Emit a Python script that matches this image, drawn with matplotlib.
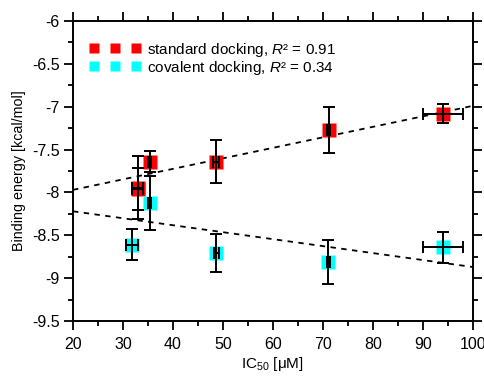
import matplotlib
matplotlib.use("Agg")
import matplotlib.pyplot as plt
from matplotlib.lines import Line2D
from matplotlib.ticker import MultipleLocator
import numpy as np

plt.rcParams['font.family'] = ['Liberation Sans', 'DejaVu Sans']
plt.rcParams['mathtext.fontset'] = 'custom'
plt.rcParams['mathtext.rm'] = 'Liberation Sans'
plt.rcParams['mathtext.it'] = 'Liberation Sans:italic'
plt.rcParams['axes.unicode_minus'] = False

# standard docking (red)
std_x = [33.0, 33.0, 35.4, 48.7, 71.2, 94.1]
std_y = [-7.945, -7.96, -7.64, -7.64, -7.27, -7.08]
std_yerr = [0.365, 0.245, 0.12, 0.25, 0.27, 0.11]
std_xerr = [1.1, 1.1, 0.3, 0.6, 0.3, 4.0]

# covalent docking (cyan)
cov_x = [31.9, 35.4, 48.7, 71.1, 94.0]
cov_y = [-8.61, -8.12, -8.71, -8.81, -8.64]
cov_yerr = [0.18, 0.315, 0.22, 0.26, 0.18]
cov_xerr = [1.2, 0.3, 0.5, 0.3, 4.0]

# linear fits (slope, intercept)
std_fit = (0.01225, -8.215)
cov_fit = (-0.008125, -8.0575)

std_label = r"standard docking, $R$² = 0.91"
cov_label = r"covalent docking, $R$² = 0.34"
xlabel = r"IC$_{50}$ [μM]"
ylabel = "Binding energy [kcal/mol]"

fig = plt.figure(figsize=(4.85, 3.76), dpi=100)
ax = fig.add_axes([0.1505, 0.1463, 0.8241, 0.7978])

xs = np.array([20, 100])
ax.plot(xs, std_fit[0] * xs + std_fit[1], color='black', lw=1.3,
        linestyle=(0, (3, 3)), zorder=1)
ax.plot(xs, cov_fit[0] * xs + cov_fit[1], color='black', lw=1.3,
        linestyle=(0, (3, 3)), zorder=1)

ax.plot(std_x, std_y, 's', color='#ff0000', ms=10.5, mec='none', zorder=2)
ax.plot(cov_x, cov_y, 's', color='#00ffff', ms=10.5, mec='none', zorder=2)

for x, y, xe, ye in [(std_x, std_y, std_xerr, std_yerr), (cov_x, cov_y, cov_xerr, cov_yerr)]:
    ax.errorbar(x, y, xerr=xe, yerr=ye, fmt='none', ecolor='black',
                elinewidth=1.4, capsize=4, capthick=1.4, zorder=3)

ax.set_xlim(20, 100)
ax.set_ylim(-9.5, -6)
ax.set_xticks(np.arange(20, 101, 10))
ax.set_xticklabels([f"{v:g}" for v in np.arange(20, 101, 10)])
ax.set_yticks(np.arange(-9.5, -5.99, 0.5))
ax.set_yticklabels([f"{v:g}" for v in np.arange(-9.5, -5.99, 0.5)])
ax.xaxis.set_minor_locator(MultipleLocator(5))
ax.yaxis.set_minor_locator(MultipleLocator(0.25))

ax.tick_params(which='both', direction='out', top=True, right=True,
               width=1.3, labelsize=11.5, colors='black')
ax.tick_params(which='major', length=6.5, pad=3)
ax.tick_params(axis='x', which='major', pad=5)
ax.tick_params(which='minor', length=3.6)
for s in ax.spines.values():
    s.set_linewidth(1.4)

ax.set_xlabel(xlabel, fontsize=11, labelpad=2)
ax.set_ylabel(ylabel, fontsize=10.3, labelpad=4)

handles = [Line2D([], [], marker='s', linestyle='none', color='#ff0000', ms=7.5, mec='none'),
           Line2D([], [], marker='s', linestyle='none', color='#00ffff', ms=7.5, mec='none')]
ax.legend(handles, [std_label, cov_label], loc='upper left', frameon=False,
          numpoints=3, handlelength=3.4, handletextpad=0.4, fontsize=11,
          borderaxespad=0.0, bbox_to_anchor=(0.025, 0.955), labelspacing=0.0)

fig.savefig("out.png", dpi=100)
